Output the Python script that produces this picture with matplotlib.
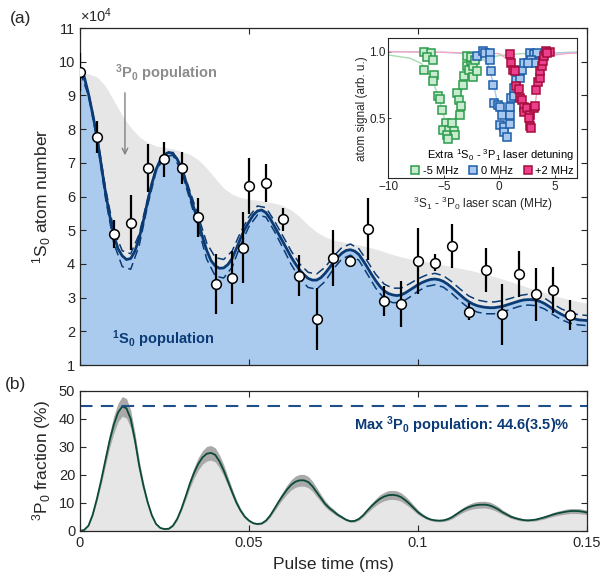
import numpy as np
import matplotlib
matplotlib.use("Agg")
import matplotlib.pyplot as plt
from matplotlib.lines import Line2D

plt.rcParams['font.family'] = ['Liberation Sans', 'DejaVu Sans']
plt.rcParams['mathtext.fontset'] = 'custom'
plt.rcParams['mathtext.rm'] = 'Liberation Sans'
plt.rcParams['mathtext.it'] = 'Liberation Sans:italic'
plt.rcParams['mathtext.bf'] = 'Liberation Sans:bold'

# ---- data ----
# fine sample grid (every 1.25 us) for the fitted curves, coarse grid (2.5 us) for bands
t_fine = np.arange(121) * 0.00125
t_coarse = np.arange(61) * 0.0025

# fitted 1S0 atom number (x1e4), one row per 10 us
s_fit = [9.72, 9.55, 9.05, 8.45, 7.79, 6.95, 6.15, 5.45,
         4.86, 4.45, 4.24, 4.13, 4.16, 4.38, 4.76, 5.28,
         5.85, 6.38, 6.80, 7.08, 7.24, 7.31, 7.27, 7.11,
         6.84, 6.47, 6.05, 5.64, 5.25, 4.80, 4.40, 4.10,
         3.94, 3.87, 3.88, 3.98, 4.16, 4.45, 4.76, 5.03,
         5.25, 5.45, 5.57, 5.60, 5.52, 5.35, 5.12, 4.89,
         4.66, 4.43, 4.20, 4.00, 3.82, 3.68, 3.57, 3.52,
         3.52, 3.59, 3.72, 3.88, 4.05, 4.20, 4.32, 4.40,
         4.42, 4.38, 4.28, 4.10, 3.90, 3.69, 3.50, 3.33,
         3.20, 3.12, 3.08, 3.06, 3.08, 3.14, 3.22, 3.30,
         3.38, 3.45, 3.50, 3.54, 3.55, 3.53, 3.48, 3.40,
         3.30, 3.19, 3.08, 2.97, 2.88, 2.81, 2.76, 2.73,
         2.71, 2.70, 2.70, 2.72, 2.74, 2.78, 2.82, 2.86,
         2.90, 2.93, 2.94, 2.94, 2.92, 2.88, 2.82, 2.74,
         2.65, 2.57, 2.50, 2.44, 2.40, 2.37, 2.34, 2.33,
         2.32]
# confidence band offsets of the fit (coarse grid)
s_err_up = [0.02, 0.04, 0.08, 0.12, 0.14, 0.15, 0.14, 0.12, 0.08, 0.05, 0.04, 0.04, 0.07, 0.12,
            0.17, 0.22, 0.25, 0.25, 0.22, 0.18, 0.15, 0.15, 0.15, 0.16, 0.17, 0.18, 0.18, 0.18,
            0.18, 0.18, 0.17, 0.17, 0.17, 0.17, 0.18, 0.19, 0.20, 0.20, 0.20, 0.19, 0.18, 0.17,
            0.17, 0.17, 0.17, 0.17, 0.17, 0.17, 0.17, 0.17, 0.17, 0.16, 0.16, 0.16, 0.16, 0.16,
            0.16, 0.16, 0.16, 0.15, 0.15]
s_err_dn = [0.02, 0.05, 0.10, 0.18, 0.25, 0.32, 0.32, 0.22, 0.12, 0.06, 0.05, 0.05, 0.08, 0.14,
            0.20, 0.26, 0.30, 0.30, 0.26, 0.20, 0.14, 0.12, 0.13, 0.15, 0.18, 0.22, 0.25, 0.27,
            0.27, 0.24, 0.20, 0.17, 0.16, 0.17, 0.20, 0.22, 0.23, 0.23, 0.23, 0.21, 0.19, 0.17,
            0.17, 0.17, 0.18, 0.19, 0.19, 0.19, 0.19, 0.18, 0.17, 0.16, 0.16, 0.16, 0.16, 0.16,
            0.16, 0.16, 0.16, 0.15, 0.15]
# total atom number (top of grey 3P0 area, coarse grid)
total = [9.66, 9.64, 9.55, 9.28, 8.85, 8.40, 8.05, 7.78, 7.60, 7.50, 7.46, 7.41, 7.34, 7.25,
         7.09, 6.84, 6.54, 6.25, 6.07, 5.97, 5.92, 5.89, 5.85, 5.80, 5.73, 5.60, 5.40, 5.15,
         4.95, 4.80, 4.71, 4.66, 4.61, 4.56, 4.51, 4.44, 4.36, 4.28, 4.21, 4.15, 4.11, 4.06,
         4.02, 3.97, 3.92, 3.87, 3.82, 3.76, 3.69, 3.62, 3.55, 3.47, 3.39, 3.30, 3.22, 3.15,
         3.08, 3.00, 2.93, 2.88, 2.83]

# measured 1S0 atom number
t_meas = [0, 0.0051, 0.0101, 0.0151, 0.0200, 0.0249, 0.0301, 0.0350, 0.0401, 0.0451, 0.0481,
          0.0500, 0.0549, 0.0600, 0.0648, 0.0700, 0.0750, 0.0799, 0.0851, 0.0900, 0.0950,
          0.0999, 0.1050, 0.1100, 0.1151, 0.1200, 0.1250, 0.1299, 0.1349, 0.1400, 0.1450]
n_meas = [9.70, 7.76, 4.89, 5.22, 6.84, 7.11, 6.84, 5.38, 3.40, 3.59, 4.48, 6.31, 6.40, 5.33,
          3.65, 2.36, 4.18, 4.10, 5.03, 2.90, 2.81, 4.09, 4.04, 4.53, 2.58, 3.82, 2.50, 3.70,
          3.10, 3.23, 2.48]
n_err = [0.57, 0.47, 0.42, 0.82, 0.72, 0.52, 0.48, 0.58, 0.89, 0.78, 1.05, 0.83, 0.55, 0.34,
         0.60, 0.92, 0.83, 0.05, 0.92, 0.45, 0.67, 0.97, 0.25, 0.64, 0.25, 0.64, 0.90, 0.68,
         0.78, 0.68, 0.44]

# 3P0 fraction (%) and its band half-width, fine grid, one row per 10 us
frac = [0, 0.4, 1.9, 5.8, 11.5, 18.0, 25.2, 32.2,
        38.0, 42.3, 44.5, 43.8, 40.0, 32.5, 23.4, 16.2,
        10.3, 5.6, 2.5, 1.1, 0.7, 0.8, 1.9, 4.3,
        7.9, 12.3, 16.9, 20.8, 24.0, 26.3, 27.6, 27.9,
        27.2, 24.9, 21.7, 17.8, 13.9, 10.2, 7.3, 5.1,
        3.7, 2.8, 2.5, 2.7, 3.7, 5.5, 7.9, 10.4,
        12.7, 14.8, 16.5, 17.6, 18.1, 18.1, 17.5, 16.0,
        13.9, 11.8, 9.7, 8.2, 7.0, 5.8, 4.9, 4.0,
        3.5, 3.6, 4.3, 5.6, 7.3, 8.9, 10.3, 11.5,
        12.3, 12.8, 12.9, 12.7, 12.1, 11.0, 9.7, 8.2,
        6.7, 5.6, 4.7, 4.1, 3.8, 3.7, 3.8, 4.2,
        4.9, 5.9, 6.9, 7.8, 8.5, 9.0, 9.3, 9.4,
        9.4, 9.1, 8.5, 7.7, 6.7, 5.9, 5.1, 4.6,
        4.2, 3.9, 3.8, 3.9, 4.1, 4.5, 4.9, 5.4,
        5.9, 6.3, 6.6, 6.9, 7.1, 7.15, 7.1, 6.9,
        6.6]
frac_err = [0, 0.05, 0.2, 0.5, 0.9, 1.4, 2.0, 2.5,
            3.0, 3.3, 3.5, 3.5, 3.1, 2.5, 1.9, 1.3,
            0.8, 0.5, 0.3, 0.2, 0.2, 0.2, 0.3, 0.5,
            0.7, 1.1, 1.5, 1.9, 2.2, 2.4, 2.6, 2.6,
            2.5, 2.3, 2.0, 1.6, 1.3, 1.0, 0.7, 0.5,
            0.4, 0.3, 0.3, 0.3, 0.4, 0.6, 0.8, 1.1,
            1.3, 1.6, 1.8, 2.0, 2.1, 2.1, 2.0, 1.8,
            1.6, 1.3, 1.1, 0.9, 0.8, 0.6, 0.5, 0.4,
            0.4, 0.4, 0.5, 0.6, 0.8, 1.0, 1.2, 1.4,
            1.5, 1.6, 1.6, 1.6, 1.5, 1.4, 1.2, 1.0,
            0.8, 0.6, 0.5, 0.4, 0.4, 0.4, 0.4, 0.5,
            0.6, 0.7, 0.8, 0.9, 1.0, 1.1, 1.2, 1.2,
            1.2, 1.2, 1.1, 1.0, 0.8, 0.7, 0.6, 0.5,
            0.5, 0.4, 0.4, 0.4, 0.5, 0.5, 0.6, 0.6,
            0.7, 0.75, 0.8, 0.85, 0.9, 0.9, 0.9, 0.85,
            0.8]
max_frac = 44.6

# inset: atom signal vs 3S1-3P0 laser scan (MHz)
g_x = [-6.74, -6.17, -6.47, -5.98, -6.74, -5.86, -6.01, -5.53, -5.32, -5.17, -4.81, -5.02, -4.51,
       -4.72, -4.26, -4.05, -3.96, -4.57, -3.81, -3.66, -3.45, -3.57, -3.27, -3.15, -2.91, -2.76,
       -2.55, -2.36, -2.36, -2.00, -2.91, -2.55, -2.15]
g_y = [1.00, 0.987, 0.962, 0.941, 0.866, 0.823, 0.782, 0.664, 0.646, 0.563, 0.467, 0.416, 0.411,
       0.373, 0.462, 0.404, 0.373, 0.348, 0.689, 0.638, 0.593, 0.525, 0.752, 0.820, 0.891, 0.861,
       0.929, 0.891, 0.808, 0.853, 0.967, 0.962, 0.941]
b_x = [-2.00, -1.46, -1.25, -0.86, -0.80, -0.74, -0.55, -0.43, -0.13, 0.11, 0.26, 0.11, 0.47, 0.41,
       0.71, 0.95, 1.01, 1.01, 1.07, 1.32, 1.32, 1.56, 1.92, 1.77, 2.07, 2.28, 2.76, 3.13, 3.43,
       2.88, 3.28, 2.58]
b_y = [0.967, 1.005, 0.987, 0.987, 0.941, 0.853, 0.752, 0.613, 0.601, 0.588, 0.525, 0.449, 0.436,
       0.399, 0.361, 0.457, 0.525, 0.588, 0.651, 0.664, 0.727, 0.790, 0.803, 0.853, 0.866, 0.916,
       0.992, 0.979, 0.992, 0.941, 0.916, 0.916]
p_x = [1.01, 1.07, 1.25, 1.47, 1.56, 1.77, 1.92, 2.07, 2.22, 2.28, 2.52, 2.76, 2.67, 2.82, 2.91,
       3.13, 3.28, 3.37, 3.49, 3.67, 3.67, 3.88, 3.97, 4.09, 4.27, 4.57, 4.33]
p_y = [0.979, 0.916, 0.866, 0.853, 0.739, 0.719, 0.651, 0.638, 0.588, 0.550, 0.575, 0.525, 0.500,
       0.441, 0.424, 0.575, 0.593, 0.714, 0.770, 0.803, 0.853, 0.896, 0.929, 0.967, 1.005, 1.000,
       0.987]
g_fit_x = [-10, -8, -7, -6.5, -6, -5.5, -5, -4.75, -4.5, -4.25, -4, -3.5, -3, -2.5, -2, -1, 0, 2, 4, 7]
g_fit_y = [0.975, 0.95, 0.91, 0.86, 0.78, 0.67, 0.52, 0.44, 0.39, 0.41, 0.49, 0.67, 0.80, 0.88,
           0.92, 0.955, 0.97, 0.985, 0.99, 0.995]
b_fit_x = [-10, -5, -3, -2, -1.5, -1, -0.5, 0, 0.25, 0.5, 0.75, 1, 1.5, 2, 2.5, 3, 4, 5, 7]
b_fit_y = [1.0, 0.995, 0.985, 0.97, 0.95, 0.9, 0.76, 0.55, 0.44, 0.38, 0.42, 0.53, 0.74, 0.86,
           0.93, 0.96, 0.98, 0.99, 0.995]
p_fit_x = [-10, -5, 0, 1, 1.5, 2, 2.5, 2.8, 3.1, 3.25, 3.5, 3.75, 4, 4.5, 5, 6, 7]
p_fit_y = [1.0, 0.995, 0.985, 0.93, 0.78, 0.63, 0.50, 0.44, 0.46, 0.60, 0.76, 0.86, 0.92, 0.96,
           0.975, 0.985, 0.99]

# ---- styling ----
dark = '#262626'
navy = '#0b3b75'
light_blue = '#abcbee'
grey_fill = '#e6e6e6'

fig = plt.figure(figsize=(6.03, 5.83), dpi=100)
ax = fig.add_axes([80 / 603, 1 - 365 / 583, 507 / 603, 337 / 583])
axb = fig.add_axes([80 / 603, 1 - 531 / 583, 507 / 603, 140 / 583])


def style_axes(a, labelsize=10.5):
    for sp in a.spines.values():
        sp.set_color(dark)
        sp.set_linewidth(0.9)
    a.tick_params(direction='in', top=True, right=True, length=4, width=0.8,
                  colors=dark, labelsize=labelsize, labelcolor=dark)


s_fit = np.array(s_fit)
s_hi = s_fit[::2] + np.array(s_err_up)
s_lo = s_fit[::2] - np.array(s_err_dn)

# (a) atom number
ax.fill_between(t_coarse, 1, total, color=grey_fill, lw=0)
ax.fill_between(t_fine, 1, s_fit, color=light_blue, lw=0)
ax.plot(t_coarse, s_hi, '--', color=navy, lw=1.1, dashes=(6, 3))
ax.plot(t_coarse, s_lo, '--', color=navy, lw=1.1, dashes=(6, 3))
ax.plot(t_fine, s_fit, '-', color=navy, lw=2.0)
ax.errorbar(t_meas, n_meas, yerr=n_err, fmt='o', color='black', ecolor='black', elinewidth=1.6,
            capsize=0, markersize=7, markerfacecolor='white', markeredgecolor='black',
            markeredgewidth=1.1, zorder=5)
ax.set_xlim(0, 0.15)
ax.set_ylim(1, 11)
ax.set_yticks(range(1, 12))
ax.set_xticks([0, 0.05, 0.1, 0.15])
ax.set_xticklabels([])
style_axes(ax)
ax.set_ylabel(r'$^1$S$_0$ atom number', fontsize=12.5, color=dark, labelpad=4)
ax.text(0.0, 1.008, r'$\times$10$^4$', transform=ax.transAxes, fontsize=10.5, color=dark,
        ha='left', va='bottom')
ax.text(0.0104, 9.66, r'$^\mathbf{3}$P$_\mathbf{0}$ population', fontsize=10.5, fontweight='bold',
        color='#8c8c8c', ha='left', va='center')
ax.annotate('', xy=(0.0133, 7.14), xytext=(0.0133, 9.16),
            arrowprops=dict(arrowstyle='->', color='#808080', lw=1.0))
ax.text(0.0094, 1.77, r'$^\mathbf{1}$S$_\mathbf{0}$ population', fontsize=10.5, fontweight='bold',
        color=navy, ha='left', va='center')

# inset
axi = fig.add_axes([388.3 / 603, 1 - 178.3 / 583, 188.4 / 603, 140 / 583])
axi.plot(g_fit_x, g_fit_y, color='#a6dcb2', lw=1.0)
axi.plot(b_fit_x, b_fit_y, color='#a9c8ef', lw=1.0)
axi.plot(p_fit_x, p_fit_y, color='#f5a9c2', lw=1.0)
axi.plot(g_x, g_y, 's', ms=5.8, mfc='#c9ebcf', mec='#2c9c4c', mew=1.1, ls='none')
axi.plot(b_x, b_y, 's', ms=5.8, mfc='#a9c8ef', mec='#1d5ea8', mew=1.1, ls='none')
axi.plot(p_x, p_y, 's', ms=5.8, mfc='#ec3f8c', mec='#a50d3c', mew=1.1, ls='none')
axi.set_xlim(-10, 7)
axi.set_ylim(0.05, 1.1)
axi.set_xticks([-10, -5, 0, 5])
axi.set_yticks([0.5, 1.0])
axi.set_yticklabels(['0.5', '1.0'])
for sp in axi.spines.values():
    sp.set_color(dark)
    sp.set_linewidth(0.8)
axi.tick_params(direction='in', length=2, width=0.6, colors=dark, labelsize=8.5, pad=2)
axi.set_xlabel(r'$^3$S$_1$ - $^3$P$_0$ laser scan (MHz)', fontsize=8.5, color=dark, labelpad=1)
axi.set_ylabel('atom signal (arb. u.)', fontsize=8.5, color=dark, labelpad=1)
handles = [Line2D([], [], marker='s', ls='none', ms=5.8, mfc='#c9ebcf', mec='#2c9c4c', mew=1.1),
           Line2D([], [], marker='s', ls='none', ms=5.8, mfc='#a9c8ef', mec='#1d5ea8', mew=1.1),
           Line2D([], [], marker='s', ls='none', ms=5.8, mfc='#ec3f8c', mec='#a50d3c', mew=1.1)]
leg = axi.legend(handles, ['-5 MHz', '0 MHz', '+2 MHz'], ncol=3, loc='lower right',
                 title=r'Extra $^1$S$_0$ - $^3$P$_1$ laser detuning', frameon=False,
                 fontsize=8, title_fontsize=8, handlelength=0.8, handletextpad=0.3,
                 columnspacing=0.9, borderaxespad=0.15, borderpad=0.1, labelspacing=0.2)
leg._legend_box.align = 'right'

# (b) 3P0 fraction
frac = np.array(frac)
f_hi = frac + np.array(frac_err)
f_lo = frac - np.array(frac_err)
axb.fill_between(t_fine, 0, f_hi, color=grey_fill, lw=0)
axb.fill_between(t_fine, f_lo, f_hi, color='#a9a9a9', lw=0)
axb.plot(t_fine, frac, color='#0b4a3a', lw=1.3)
axb.axhline(max_frac, color='#1f4f8a', lw=1.5, ls='--', dashes=(6, 4))
axb.text(0.145, 37.9, r'Max $^\mathbf{3}$P$_\mathbf{0}$ population: 44.6(3.5)%', fontsize=10.5,
         fontweight='bold', color=navy, ha='right', va='center')
axb.set_xlim(0, 0.15)
axb.set_ylim(0, 50)
axb.set_yticks([0, 10, 20, 30, 40, 50])
axb.set_xticks([0, 0.05, 0.1, 0.15])
axb.set_xticklabels(['0', '0.05', '0.1', '0.15'])
style_axes(axb)
axb.set_ylabel(r'$^3$P$_0$ fraction (%)', fontsize=12.5, color=dark, labelpad=4)
axb.set_xlabel('Pulse time (ms)', fontsize=12.5, color=dark, labelpad=5)

fig.text(10 / 603, 1 - 18 / 583, '(a)', fontsize=12.5, color=dark, va='center')
fig.text(5 / 603, 1 - 384 / 583, '(b)', fontsize=12.5, color=dark, va='center')

fig.savefig('out.png', dpi=100)
